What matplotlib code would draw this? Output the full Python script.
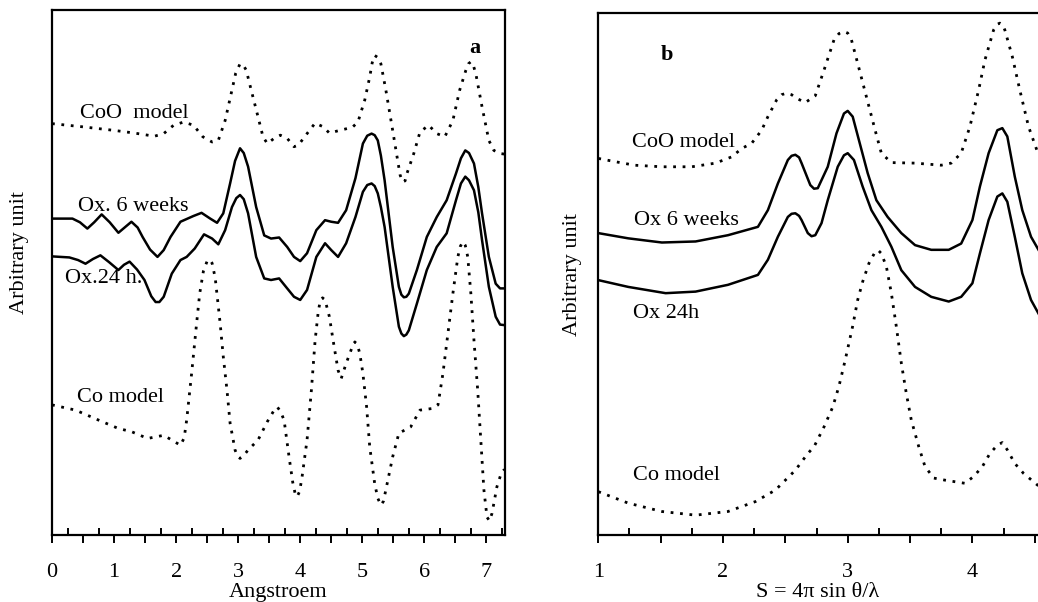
import matplotlib
matplotlib.use("Agg")
import matplotlib.pyplot as plt
from matplotlib.ticker import MultipleLocator, FuncFormatter

plt.rcParams['font.family'] = ['Liberation Serif', 'DejaVu Serif']
plt.rcParams['font.size'] = 16

# (x, y) points; y is an arbitrary unit scaled 0..100

# panel a : x in Angstroem
a_coo = [(0.0, 78.4), (0.49, 77.8), (1.01, 77.1), (1.33, 76.6), (1.65, 76.0),
         (1.80, 76.5), (1.96, 78.1), (2.12, 78.7), (2.28, 78.1), (2.43, 75.9),
         (2.58, 74.9), (2.68, 75.2), (2.79, 79.0), (2.90, 84.8), (2.96, 88.0),
         (3.03, 89.8), (3.08, 89.6), (3.13, 88.6), (3.21, 84.8), (3.32, 79.7),
         (3.40, 75.9), (3.47, 74.6), (3.58, 75.6), (3.68, 76.2), (3.79, 75.6),
         (3.90, 74.0), (3.97, 74.3), (4.11, 76.5), (4.24, 78.5), (4.37, 77.8),
         (4.47, 76.6), (4.63, 77.1), (4.84, 77.7), (4.93, 78.7), (5.04, 82.9),
         (5.12, 87.3), (5.16, 90.0), (5.20, 91.4), (5.25, 91.0), (5.30, 89.8),
         (5.38, 84.8), (5.49, 77.1), (5.57, 71.4), (5.61, 68.6), (5.65, 67.3),
         (5.69, 67.5), (5.72, 68.9), (5.83, 72.7), (5.93, 76.8), (6.07, 78.1),
         (6.20, 76.5), (6.33, 75.9), (6.46, 79.0), (6.57, 84.8), (6.67, 88.6),
         (6.71, 89.8), (6.75, 90.2), (6.79, 89.5), (6.83, 87.9), (6.93, 81.6),
         (7.04, 75.2), (7.12, 73.3), (7.22, 72.7), (7.29, 72.6)]

a_ox6 = [(0.0, 60.3), (0.33, 60.3), (0.45, 59.6), (0.57, 58.4), (0.68, 59.6),
         (0.80, 61.1), (0.93, 59.6), (1.07, 57.6), (1.17, 58.6), (1.28, 59.7),
         (1.38, 58.6), (1.46, 56.8), (1.58, 54.4), (1.70, 53.0), (1.80, 54.3),
         (1.91, 56.8), (2.07, 59.7), (2.28, 60.8), (2.41, 61.4), (2.55, 60.3),
         (2.66, 59.5), (2.76, 61.3), (2.87, 67.0), (2.95, 71.3), (3.03, 73.7),
         (3.09, 72.8), (3.16, 70.2), (3.29, 62.5), (3.42, 57.1), (3.53, 56.5),
         (3.66, 56.7), (3.79, 54.9), (3.90, 53.0), (4.00, 52.2), (4.11, 53.7),
         (4.26, 58.1), (4.40, 60.0), (4.50, 59.7), (4.61, 59.5), (4.74, 61.9),
         (4.89, 68.0), (5.01, 74.6), (5.08, 76.1), (5.15, 76.5), (5.20, 76.2),
         (5.25, 75.2), (5.30, 72.3), (5.36, 67.6), (5.49, 54.9), (5.59, 47.3),
         (5.63, 45.8), (5.67, 45.3), (5.71, 45.4), (5.75, 46.0), (5.88, 50.5),
         (6.04, 56.8), (6.20, 60.6), (6.36, 63.8), (6.51, 68.9), (6.59, 71.8),
         (6.66, 73.3), (6.72, 72.8), (6.80, 70.8), (6.87, 66.3), (6.93, 61.3),
         (7.04, 53.0), (7.15, 47.9), (7.22, 47.0), (7.29, 47.0)]

a_ox24 = [(0.0, 53.1), (0.28, 52.9), (0.42, 52.4), (0.54, 51.7), (0.66, 52.6),
          (0.78, 53.3), (0.92, 52.0), (1.07, 50.5), (1.16, 51.5), (1.25, 52.1),
          (1.37, 50.6), (1.49, 48.6), (1.60, 45.5), (1.67, 44.4), (1.73, 44.4),
          (1.80, 45.4), (1.93, 49.8), (2.07, 52.4), (2.17, 53.0), (2.30, 54.6),
          (2.45, 57.3), (2.58, 56.5), (2.68, 55.4), (2.79, 58.1), (2.90, 62.5),
          (2.97, 64.2), (3.03, 64.8), (3.09, 64.0), (3.16, 61.3), (3.29, 53.0),
          (3.42, 48.9), (3.53, 48.6), (3.66, 48.9), (3.79, 47.0), (3.90, 45.4),
          (4.00, 44.8), (4.11, 46.7), (4.26, 53.0), (4.40, 55.6), (4.50, 54.3),
          (4.61, 53.0), (4.74, 55.6), (4.89, 60.6), (5.01, 65.4), (5.08, 66.7),
          (5.15, 67.0), (5.20, 66.5), (5.25, 65.1), (5.30, 62.5), (5.36, 58.7),
          (5.49, 47.3), (5.59, 39.7), (5.63, 38.4), (5.67, 37.9), (5.71, 38.2),
          (5.75, 39.0), (5.88, 44.1), (6.04, 50.5), (6.20, 54.9), (6.36, 57.5),
          (6.51, 63.8), (6.59, 67.0), (6.66, 68.3), (6.72, 67.6), (6.80, 65.7),
          (6.87, 61.5), (6.93, 56.2), (7.04, 47.3), (7.15, 41.6), (7.22, 40.1),
          (7.29, 40.0)]

a_co = [(0.0, 24.8), (0.38, 23.8), (0.75, 21.9), (1.07, 20.3), (1.28, 19.7),
        (1.54, 18.4), (1.80, 19.0), (1.93, 18.1), (2.07, 17.1), (2.13, 18.5),
        (2.17, 21.9), (2.25, 30.8), (2.33, 40.3), (2.38, 46.0), (2.44, 50.3),
        (2.50, 52.2), (2.54, 52.5), (2.58, 51.8), (2.63, 49.0), (2.71, 40.3),
        (2.76, 34.0), (2.82, 27.6), (2.87, 21.3), (2.95, 16.2), (2.99, 15.0),
        (3.03, 14.6), (3.08, 15.0), (3.16, 16.2), (3.32, 18.1), (3.47, 21.6),
        (3.58, 23.8), (3.63, 24.4), (3.68, 23.6), (3.74, 21.9), (3.82, 14.9),
        (3.88, 10.0), (3.92, 7.8), (3.95, 7.3), (3.99, 8.3), (4.03, 11.1),
        (4.11, 18.1), (4.18, 27.6), (4.24, 37.1), (4.29, 42.5), (4.32, 44.5),
        (4.36, 45.2), (4.40, 44.8), (4.47, 41.6), (4.53, 37.1), (4.61, 31.4),
        (4.66, 29.8), (4.74, 32.7), (4.84, 35.9), (4.88, 36.8), (4.92, 36.3),
        (4.96, 34.6), (5.01, 30.8), (5.07, 24.4), (5.12, 16.8), (5.20, 9.8),
        (5.25, 7.0), (5.30, 5.7), (5.34, 6.4), (5.38, 8.6), (5.49, 14.9),
        (5.59, 19.4), (5.78, 20.6), (5.93, 23.8), (6.12, 24.1), (6.22, 24.8),
        (6.30, 30.8), (6.38, 38.4), (6.46, 46.0), (6.54, 53.0), (6.58, 55.0),
        (6.62, 55.9), (6.66, 55.2), (6.70, 53.0), (6.75, 46.0), (6.80, 37.1),
        (6.86, 27.6), (6.91, 18.1), (6.96, 8.6), (7.01, 3.4), (7.05, 2.7),
        (7.09, 4.1), (7.17, 9.2), (7.24, 11.8), (7.29, 12.5)]

# panel b : x is S = 4 pi sin(theta)/lambda
b_coo = [(1.0, 72.1), (1.13, 71.5), (1.29, 70.8), (1.51, 70.5), (1.75, 70.5),
         (1.94, 71.2), (2.07, 72.4), (2.15, 74.0), (2.23, 75.0), (2.31, 77.5),
         (2.36, 80.1), (2.43, 83.3), (2.47, 84.3), (2.51, 84.6), (2.55, 84.3),
         (2.59, 83.6), (2.66, 82.8), (2.74, 84.1), (2.81, 89.0), (2.89, 94.8),
         (2.93, 96.0), (2.97, 96.4), (3.00, 96.1), (3.03, 94.8), (3.08, 90.3),
         (3.15, 83.9), (3.22, 77.5), (3.27, 73.1), (3.35, 71.3), (3.54, 71.2),
         (3.75, 70.8), (3.83, 71.2), (3.91, 73.1), (3.98, 78.2), (4.05, 85.2),
         (4.10, 90.9), (4.17, 96.7), (4.20, 97.8), (4.22, 98.0), (4.245, 97.6),
         (4.26, 96.7), (4.32, 91.6), (4.38, 85.2), (4.45, 78.2), (4.53, 72.8)]

b_ox6 = [(1.0, 57.8), (1.24, 56.8), (1.51, 56.0), (1.78, 56.2), (2.04, 57.4),
         (2.28, 59.0), (2.36, 62.2), (2.44, 67.3), (2.52, 71.8), (2.55, 72.6),
         (2.58, 72.8), (2.61, 72.3), (2.63, 71.2), (2.70, 67.0), (2.73, 66.3),
         (2.76, 66.4), (2.84, 70.5), (2.91, 76.9), (2.97, 80.7), (3.0, 81.2),
         (3.04, 80.1), (3.09, 75.6), (3.16, 69.3), (3.23, 64.1), (3.32, 60.9),
         (3.43, 57.8), (3.54, 55.5), (3.67, 54.6), (3.81, 54.6), (3.91, 55.8),
         (4.00, 60.3), (4.06, 66.7), (4.13, 73.1), (4.20, 77.5), (4.24, 77.9),
         (4.28, 76.3), (4.34, 68.6), (4.40, 62.2), (4.47, 57.1), (4.53, 54.6)]

b_ox24 = [(1.0, 48.8), (1.24, 47.5), (1.54, 46.3), (1.78, 46.6), (2.04, 47.9),
          (2.28, 49.8), (2.36, 52.7), (2.44, 57.1), (2.52, 60.9), (2.55, 61.5),
          (2.58, 61.6), (2.61, 61.1), (2.63, 60.3), (2.68, 57.8), (2.71, 57.2),
          (2.74, 57.4), (2.79, 59.7), (2.84, 64.1), (2.92, 70.5), (2.97, 72.7),
          (3.0, 73.1), (3.05, 71.8), (3.12, 66.7), (3.19, 62.2), (3.27, 59.0),
          (3.35, 55.2), (3.43, 50.7), (3.54, 47.5), (3.67, 45.6), (3.81, 44.7),
          (3.91, 45.6), (4.00, 48.2), (4.06, 53.9), (4.13, 60.3), (4.20, 64.8),
          (4.24, 65.4), (4.28, 63.8), (4.34, 57.1), (4.40, 50.1), (4.47, 45.0),
          (4.53, 42.4)]

b_co = [(1.0, 8.3), (1.24, 6.1), (1.51, 4.5), (1.78, 3.8), (2.04, 4.5),
        (2.26, 6.4), (2.42, 8.6), (2.58, 12.4), (2.68, 15.6), (2.73, 16.9),
        (2.81, 20.7), (2.88, 24.5), (2.93, 28.5), (2.98, 33.5), (3.04, 40.0),
        (3.08, 45.0), (3.12, 48.5), (3.17, 52.0), (3.22, 54.2), (3.245, 54.5),
        (3.27, 53.9), (3.31, 51.4), (3.35, 46.3), (3.39, 39.9), (3.43, 32.9),
        (3.47, 27.1), (3.51, 22.0), (3.57, 16.9), (3.62, 13.1), (3.69, 10.9),
        (3.78, 10.5), (3.86, 10.2), (3.94, 9.9), (4.01, 11.2), (4.08, 13.1),
        (4.14, 15.6), (4.20, 17.2), (4.24, 17.7), (4.28, 16.3), (4.34, 13.7),
        (4.41, 11.8), (4.53, 9.4)]

dotted = (0, (1.0, 2.4))

fig = plt.figure(figsize=(10.38, 6.02), dpi=100)
ax_a = fig.add_axes([52 / 1038, 67 / 602, 453 / 1038, 524.7 / 602])
ax_b = fig.add_axes([598.3 / 1038, 67 / 602, 439.7 / 1038, 522.3 / 602])


def style_axis(ax, xmin, xmax):
    ax.set_xlim(xmin, xmax)
    ax.set_ylim(0, 100)
    ax.set_yticks([])
    for s in ax.spines.values():
        s.set_linewidth(1.6)
    ax.xaxis.set_major_locator(MultipleLocator(0.5))
    ax.xaxis.set_minor_locator(MultipleLocator(0.25))
    ax.xaxis.set_major_formatter(
        FuncFormatter(lambda v, p: "%d" % round(v) if abs(v - round(v)) < 1e-6 else ""))
    ax.tick_params(axis='x', which='major', direction='out', length=6, width=1.4,
                   pad=14, labelsize=16)
    ax.tick_params(axis='x', which='minor', direction='in', length=5, width=1.4)


def draw(ax, pts, dots):
    xs, ys = zip(*pts)
    if dots:
        ax.plot(xs, ys, color='black', lw=2.0, ls=dotted)
    else:
        ax.plot(xs, ys, color='black', lw=1.8, solid_joinstyle='round')


style_axis(ax_a, 0, 7.3)
style_axis(ax_b, 1, 4.526)
ax_b.spines['right'].set_visible(False)

draw(ax_a, a_coo, True)
draw(ax_a, a_ox6, False)
draw(ax_a, a_ox24, False)
draw(ax_a, a_co, True)

draw(ax_b, b_coo, True)
draw(ax_b, b_ox6, False)
draw(ax_b, b_ox24, False)
draw(ax_b, b_co, True)

# curve labels
ax_a.text(0.45, 79.4, "CoO  model", va='baseline')
ax_a.text(0.42, 61.7, "Ox. 6 weeks", va='baseline')
ax_a.text(0.21, 48.0, "Ox.24 h.", va='baseline')
ax_a.text(0.40, 25.3, "Co model", va='baseline')
ax_a.text(6.73, 91.8, "a", va='baseline', fontweight='bold')

ax_b.text(1.27, 74.3, "CoO model", va='baseline')
ax_b.text(1.29, 59.4, "Ox 6 weeks", va='baseline')
ax_b.text(1.28, 41.5, "Ox 24h", va='baseline')
ax_b.text(1.28, 10.5, "Co model", va='baseline')
ax_b.text(1.50, 90.9, "b", va='baseline', fontweight='bold')

# axis titles
fig.text(20 / 1038, 1 - 253 / 602, "Arbitrary unit", rotation=90, ha='center', va='center')
fig.text(573 / 1038, 1 - 274 / 602, "Arbitrary unit", rotation=90, ha='center', va='center')
fig.text(278 / 1038, 1 - 597 / 602, "Angstroem", ha='center', va='baseline')
fig.text(818 / 1038, 1 - 597 / 602, "S = 4\u03c0 sin \u03b8/\u03bb", ha='center', va='baseline')

fig.savefig("out.png", dpi=100)
